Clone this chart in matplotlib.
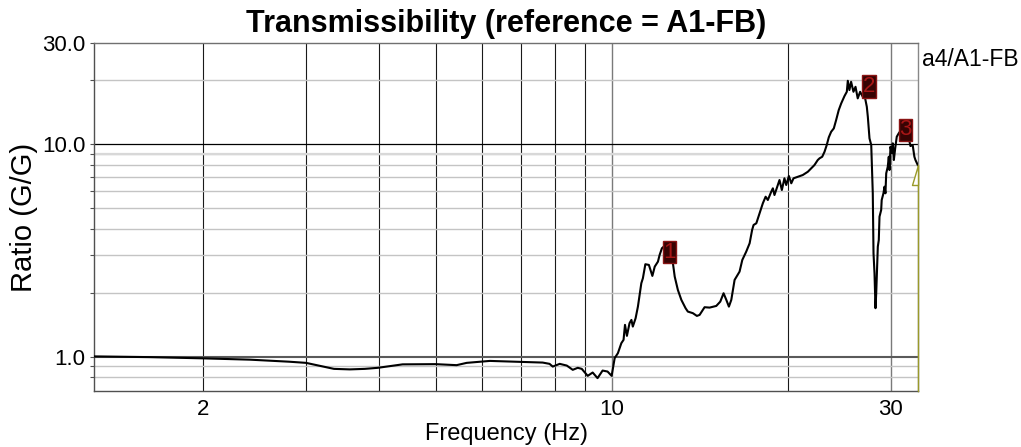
import numpy as np
import matplotlib
matplotlib.use("Agg")
import matplotlib.pyplot as plt
from matplotlib.path import Path
from matplotlib.ticker import FixedLocator, NullFormatter, NullLocator

plt.rcParams["font.family"] = ["Liberation Sans", "DejaVu Sans"]

# Transmissibility a4 / A1-FB
freq_hz = [
    1.302, 1.623, 2.0, 2.406, 2.805, 3.0, 3.17, 3.35, 3.565, 3.782, 3.98,
    4.39, 5.0, 5.43, 5.65, 6.19, 7.04, 7.62, 7.83, 7.93, 8.15, 8.38, 8.58,
    8.75, 8.89, 9.10, 9.28, 9.46, 9.65, 9.84, 10.0,
    10.12, 10.25, 10.39, 10.48, 10.54, 10.62, 10.73, 10.81, 10.87, 10.99,
    11.09, 11.24, 11.31, 11.42, 11.58, 11.74, 11.85, 12.0, 12.08, 12.19,
    12.37, 12.73, 12.82, 12.98, 13.16, 13.38, 13.5, 13.77, 13.99, 14.14,
    14.42, 14.71, 15.1, 15.34, 15.54, 15.71, 15.87, 16.02, 16.23, 16.55,
    16.73, 16.99, 17.22, 17.39, 17.49, 17.68, 17.91, 18.14, 18.34, 18.5,
    18.75, 18.87, 18.99, 19.24, 19.37, 19.55, 19.75, 19.89, 20.1, 20.29,
    20.47, 20.83, 21.23, 21.66, 21.95, 22.23, 22.52, 22.68, 22.92, 23.13,
    23.33, 23.52, 23.74, 23.99, 24.21, 24.46, 24.7, 25.02, 25.25, 25.35,
    25.51, 25.68, 25.92, 26.13, 26.36, 26.61, 26.89, 27.07, 27.32, 27.43,
    27.54, 27.61, 27.8, 27.97, 28.05, 28.16, 28.27, 28.35, 28.53, 28.64,
    28.72, 28.91, 28.97, 29.17, 29.29, 29.4, 29.49, 29.67, 29.79, 29.87,
    29.99, 30.14, 30.27, 30.39, 30.55, 30.74, 30.98, 31.44, 31.94, 32.32,
    32.44, 32.73, 32.95, 33.09, 33.39,
]
ratio = [
    1.004, 0.996, 0.983, 0.969, 0.948, 0.936, 0.906, 0.877, 0.872, 0.877,
    0.887, 0.921, 0.923, 0.913, 0.936, 0.956, 0.946, 0.939, 0.926, 0.899,
    0.926, 0.909, 0.868, 0.887, 0.877, 0.813, 0.843, 0.793, 0.861, 0.852,
    0.813,
    0.985, 1.04, 1.159, 1.201, 1.413, 1.254, 1.439, 1.491, 1.387, 1.519,
    1.722, 2.219, 2.343, 2.727, 2.706, 2.402, 2.657, 2.804, 3.015, 3.243,
    3.36, 2.756, 2.384, 2.064, 1.852, 1.693, 1.632, 1.604, 1.557, 1.574,
    1.711, 1.704, 1.735, 1.818, 1.991, 1.852, 1.722, 1.852, 2.3, 2.516,
    2.856, 3.125, 3.422, 3.954, 4.173, 4.25, 4.736, 5.279, 5.669, 5.47,
    5.984, 6.209, 5.774, 6.436, 6.794, 6.095, 6.92, 6.436, 7.094, 6.556,
    6.92, 7.04, 7.171, 7.432, 7.711, 7.992, 8.437, 8.594, 8.744, 9.231,
    9.925, 10.79, 11.46, 11.89, 13.01, 14.5, 15.59, 16.88, 17.68, 19.92,
    18.01, 19.7, 17.68, 18.66, 16.46, 17.68, 16.75, 17.06, 15.03, 13.48,
    11.67, 10.67, 9.925, 5.882, 3.071, 2.473, 1.693, 1.991, 3.299, 3.547,
    4.565, 4.909, 5.47, 5.882, 6.318, 5.882, 7.305, 7.847, 8.744, 7.57,
    9.743, 9.07, 10.11, 8.437, 9.576, 10.86, 11.27, 11.93, 12.06, 10.29,
    9.817, 9.925, 8.744, 8.437, 7.992,
]

# Peak markers
marker_labels = ["1", "2", "3"]
marker_freq = [12.56, 27.55, 31.81]
marker_ratio = [3.11, 18.74, 11.71]

x_ticks = [2, 10, 30]
x_tick_labels = ["2", "10", "30"]
y_ticks = [1.0, 10.0, 30.0]
y_tick_labels = ["1.0", "10.0", "30.0"]

fig = plt.figure(figsize=(10.21, 4.47), dpi=100)
ax = fig.add_axes([0.0921, 0.1253, 0.8070, 0.7785])
ax.set_xscale("log")
ax.set_yscale("log")
ax.set_xlim(1.302, 33.42)
ax.set_ylim(0.69, 30.0)

# grid lines
x_grid_dark = [2, 3, 4, 5, 6, 7, 8, 9, 20]
x_grid_grey = [10, 30]
for xv in x_grid_dark:
    ax.axvline(xv, color="#1a1a1a", lw=0.8, zorder=1)
for xv in x_grid_grey:
    ax.axvline(xv, color="#7a7a7a", lw=1.0, zorder=1)
y_grid_light = [0.8, 0.9, 2, 3, 4, 5, 6, 7, 8, 9, 20]
for yv in y_grid_light:
    ax.axhline(yv, color="#c4c4c4", lw=1.0, zorder=1)
ax.axhline(9, color="#d8d8d8", lw=1.6, zorder=1)
ax.axhline(10, color="#000000", lw=0.9, zorder=1)
ax.axhline(1.0, color="#5a5a5a", lw=1.5, zorder=1)

ax.plot(freq_hz, ratio, color="black", lw=1.5, zorder=3)

# cursor at the last point
f_end, r_end = freq_hz[-1], ratio[-1]
cursor_path = Path([(0, 0), (0, -1), (-0.27, -1), (0, 0)],
                   [Path.MOVETO, Path.LINETO, Path.LINETO, Path.CLOSEPOLY])
ax.plot([f_end, f_end], [0.69, r_end], color="#9a9a2a", lw=1.0, zorder=4,
        clip_on=False)
ax.plot([f_end], [r_end], marker=cursor_path, markersize=29.5,
        markerfacecolor="white", markeredgecolor="#9a9a2a", mew=1.0,
        zorder=4, clip_on=False)

for lab, fx, ry in zip(marker_labels, marker_freq, marker_ratio):
    ax.text(fx, ry, lab, ha="center", va="center", fontsize=16,
            color="#a81616", zorder=6,
            bbox=dict(boxstyle="square,pad=0.03", fc="#360303",
                      ec="#8a1414", lw=1.0))

ax.xaxis.set_major_locator(FixedLocator(x_ticks))
ax.xaxis.set_minor_locator(NullLocator())
ax.set_xticklabels(x_tick_labels)
ax.yaxis.set_major_locator(FixedLocator(y_ticks))
ax.yaxis.set_minor_locator(FixedLocator([0.8, 0.9, 2, 3, 4, 5, 6, 7, 8, 9, 20]))
ax.yaxis.set_minor_formatter(NullFormatter())
ax.set_yticklabels(y_tick_labels)
ax.tick_params(axis="y", which="both", length=3, width=0.8, color="#505050",
               labelsize=16, pad=3)
ax.tick_params(axis="x", which="both", length=0, labelsize=16, pad=6)

for side, col in (("left", "#505050"), ("bottom", "#505050"),
                  ("top", "#707070"), ("right", "#888888")):
    ax.spines[side].set_color(col)
    ax.spines[side].set_linewidth(1.0)

ax.set_title("Transmissibility (reference = A1-FB)", fontsize=22,
             fontweight="bold", pad=8)
ax.set_xlabel("Frequency (Hz)", fontsize=17, labelpad=2)
ax.set_ylabel("Ratio (G/G)", fontsize=21, labelpad=3)
fig.text(0.903, 0.868, "a4/A1-FB", fontsize=16.5, ha="left", va="center")

fig.savefig("out.png", dpi=100)
